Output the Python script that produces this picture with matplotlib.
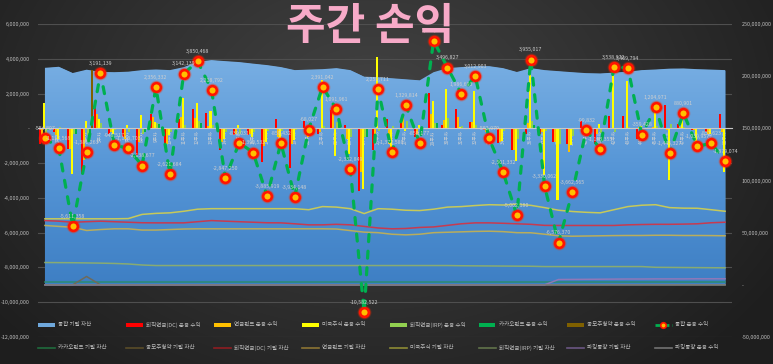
import numpy as np
import matplotlib
matplotlib.use("Agg")
import matplotlib.pyplot as plt
from matplotlib.ticker import FuncFormatter
from matplotlib.lines import Line2D
from matplotlib.patches import Rectangle
from matplotlib.colors import LinearSegmentedColormap

plt.rcParams['font.family'] = ['Noto Sans CJK KR', 'DejaVu Sans']

# ---------------- data ----------------
weeks = [f"{i}주차" for i in range(1, 51)]

total_profit = [-554807, -1153568, -5611358, -1381263, 3191139, -948517, -1158703, -2138677, 2356332, -2621684,
                3142139, 3850468, 2218792, -2847250, -830031, -1390533, -3885919, -850432, -3934148, -68027,
                2391042, 1091961, -2332849, -10582522, 2251711, -1377580, 1329814, -858177, 5042085, 3496827,
                1986693, 3012903, -582979, -2501332, -5002180, 3955017, -3330062, -6576370, -3662565, -99832,
                -1193355, 3538972, 3469794, -359428, 1204971, -1445327, 880901, -1039957, -857623, -1879074]

dc_profit = [-900000, -200000, -1200000, -2600000, 1500000, -300000, -500000, -1550000, 800000, -1100000,
             560000, 1120000, 880000, -1250000, -400000, -400000, -1950000, 520000, -2290000, 400000,
             -300000, 1040000, 200000, -3600000, -1270000, 560000, 350000, -500000, 2040000, 170000,
             1130000, 350000, -100000, -850000, -1270000, -300000, -300000, -790000, -880000, 420000,
             -880000, 710000, 690000, -600000, -50000, 1360000, 230000, -100000, -200000, 850000]
fund_profit = [-700000, -400000, -1200000, -1800000, 850000, -200000, -600000, -800000, 650000, -900000,
               650000, 600000, 150000, -800000, -300000, -300000, -1000000, -500000, -880000, 100000,
               -200000, 1000000, -600000, -2500000, -400000, -880000, 710000, -300000, 850000, 460000,
               650000, 350000, -200000, -800000, -1270000, 300000, -200000, -790000, -1360000, -200000,
               -300000, 0, 0, 100000, 100000, -100000, 100000, -100000, -300000, -200000]
us_profit = [1450000, -600000, -2600000, 450000, 550000, -350000, 170000, 750000, 350000, -400000,
             1750000, 1440000, 1000000, -600000, 200000, -500000, -800000, -690000, -690000, -500000,
             2770000, -1600000, -1460000, -3500000, 4100000, -1170000, -150000, 170000, 1560000, 2250000,
             50000, 2130000, -300000, -700000, -1850000, 3340000, -2700000, -4100000, -980000, -200000,
             230000, 3060000, 2710000, 150000, 1040000, -2960000, 460000, -790000, -300000, -2520000]
irp_profit = [-300000, 50000, -300000, -400000, 300000, -100000, -200000, -350000, 300000, -200000,
              180000, 400000, 200000, -200000, -330000, -190000, -140000, -180000, -70000, -70000,
              120000, 350000, -470000, -500000, -180000, 110000, 420000, -230000, 300000, 600000,
              160000, 180000, 20000, -150000, -600000, 400000, -130000, -900000, -440000, -120000,
              -240000, -230000, 70000, -10000, 110000, 250000, 90000, -50000, -60000, -10000]
kakao_profit = [-100000, 0, -300000, -400000, 0, 0, 0, -200000, 250000, 0,
                0, 300000, 0, 0, 0, 0, 0, 0, 0, 0,
                0, 300000, 0, -480000, 0, 0, 0, 0, 290000, 0,
                0, 0, 0, 0, 0, 220000, 0, 0, 0, 0,
                0, 0, 0, 0, 0, 0, 0, 0, 0, 0]
ipo_profit = [0, 0, 0, 3350000, 0, 0, 0, 0, 0, 0,
              0, 0, 0, 0, 0, 0, 0, 0, 0, 0,
              0, 0, 0, 0, 0, 0, 0, 0, 0, 0,
              0, 0, 0, 0, 0, 0, 0, 0, 0, 0,
              0, 0, 0, 0, 0, 0, 0, 0, 0, 0]

total_asset = [208.0, 209.0, 203.0, 206.2, 204.1, 203.8, 204.3, 205.8, 206.4, 205.8,
               208.6, 213.8, 215.4, 214.4, 213.5, 212.0, 210.6, 208.7, 205.8, 206.3,
               206.7, 207.7, 205.8, 199.5, 199.0, 198.0, 197.0, 196.0, 203.8, 207.7,
               208.7, 209.6, 209.6, 207.7, 204.0, 207.7, 205.8, 204.8, 203.8, 202.9,
               202.6, 203.4, 204.3, 205.8, 206.4, 207.2, 207.4, 206.7, 206.3, 205.8]
us_asset = [63.3, 63.3, 63.3, 63.3, 63.3, 63.3, 63.5, 67.5, 68.5, 69.0,
            70.5, 72.5, 73.0, 73.0, 73.0, 73.0, 73.0, 73.0, 73.0, 72.0,
            75.0, 74.5, 73.0, 68.3, 73.0, 72.5, 71.5, 71.2, 72.5, 74.5,
            75.0, 76.0, 76.8, 76.5, 77.3, 76.2, 74.0, 71.5, 70.3, 69.5,
            69.0, 72.0, 75.0, 76.3, 76.8, 74.0, 73.5, 73.4, 72.0, 70.5]
dc_asset = [61.6, 61.0, 60.0, 60.5, 61.0, 60.5, 60.0, 59.5, 59.4, 59.4,
            59.4, 60.5, 61.6, 61.0, 60.5, 60.0, 59.5, 59.4, 58.5, 57.5,
            57.5, 58.0, 57.5, 56.0, 54.5, 53.7, 54.0, 55.0, 55.5, 57.0,
            58.5, 59.4, 59.4, 59.0, 58.5, 58.0, 57.0, 56.9, 56.9, 56.9,
            56.9, 56.9, 57.5, 57.8, 58.0, 58.0, 58.2, 58.5, 59.5, 60.0]
fund_asset = [56.9, 56.0, 55.2, 52.1, 53.0, 53.7, 53.7, 52.5, 52.5, 53.0,
              53.5, 53.7, 53.7, 53.7, 53.7, 53.7, 53.7, 53.7, 53.7, 53.7,
              53.7, 53.5, 52.0, 50.5, 50.0, 48.5, 47.9, 48.5, 50.0, 50.4,
              50.8, 51.2, 51.4, 51.0, 50.0, 49.9, 48.5, 47.0, 46.6, 46.8,
              47.0, 47.2, 47.3, 47.3, 47.5, 47.5, 47.3, 47.3, 47.2, 47.0]
irp_asset = [21.4, 21.3, 21.2, 21.0, 20.8, 20.5, 20.0, 19.0, 18.5, 18.5,
             18.5, 18.5, 18.5, 18.5, 18.5, 18.5, 18.5, 18.5, 18.5, 18.5,
             18.5, 18.5, 18.5, 18.5, 18.5, 18.5, 18.5, 18.5, 18.5, 18.5,
             18.3, 18.2, 18.1, 18.0, 17.9, 17.8, 17.5, 17.5, 17.5, 17.5,
             17.5, 17.5, 17.5, 17.5, 16.8, 16.7, 16.6, 16.5, 16.4, 16.3]
kakao_asset = [2.8] * 50
ipo_asset = [0, 0, 0, 8.0, 0, 0, 0, 0, 0, 0,
             0, 0, 0, 0, 0, 0, 0, 0, 0, 0,
             0, 0, 0, 0, 0, 0, 0, 0, 0, 0,
             0, 0, 0, 0, 0, 0, 0, 0, 0, 0,
             0, 0, 0, 0, 0, 0, 0, 0, 0, 0]
parking_asset = [0] * 37 + [5.1, 5.2, 5.3, 5.4, 5.5, 5.6, 5.6, 5.7, 5.7, 5.7, 5.8, 5.8, 5.8]
parking_profit = [0] * 37 + [0.01] * 13

# ---------------- figure ----------------
W, H = 773, 364
fig = plt.figure(figsize=(W / 100, H / 100), dpi=100)

# background radial gradient
bg = fig.add_axes([0, 0, 1, 1], zorder=-10)
yy, xx = np.mgrid[0:H, 0:W]
r = np.sqrt(((xx - 0.48 * W) / (0.62 * W)) ** 2 + ((yy - 0.30 * H) / (0.95 * H)) ** 2)
r = np.clip(r, 0, 1)
g = 68 - 38 * r
bgimg = np.dstack([g, g, g]) / 255.0
bg.imshow(bgimg, extent=[0, 1, 0, 1], aspect='auto', origin='upper')
bg.axis('off')

rect = [38 / W, 27 / H, 694 / W, 313 / H]
x = np.arange(len(weeks))

fmt = FuncFormatter(lambda v, p: '-' if abs(v) < 1e-6 else f"{v:,.0f}")

# left axis: gridlines + tick labels
ax_l = fig.add_axes(rect)
ax_l.patch.set_visible(False)
ax_l.set_xlim(-0.5, len(weeks) - 0.5)
ax_l.set_ylim(-12e6, 6e6)
ax_l.set_yticks(np.arange(-12e6, 6e6 + 1, 2e6))
ax_l.yaxis.set_major_formatter(fmt)
ax_l.yaxis.grid(True, color='#4f4f4f', lw=0.8)
ax_l.set_axisbelow(True)
ax_l.tick_params(axis='y', length=0, pad=6, labelsize=3.9, labelcolor='#bdbdbd')
ax_l.tick_params(axis='x', bottom=False, labelbottom=False)
for s in ax_l.spines.values():
    s.set_visible(False)

# right axis: area + asset lines
ax_r = ax_l.twinx()
ax_r.patch.set_visible(False)
ax_r.set_ylim(-50e6, 250e6)
ax_r.set_yticks(np.arange(-50e6, 250e6 + 1, 50e6))
ax_r.yaxis.set_major_formatter(fmt)
ax_r.tick_params(axis='y', length=0, pad=7, labelsize=3.9, labelcolor='#bdbdbd')
for s in ax_r.spines.values():
    s.set_visible(False)

ta = np.array(total_asset) * 1e6
poly = ax_r.fill_between(x, 0, ta, color='#5b9bd5', lw=0, zorder=1)
cmap = LinearSegmentedColormap.from_list('blu', ['#3e7fc4', '#5595d6', '#79afe3'])
grad = np.linspace(0, 1, 256).reshape(-1, 1)
im = ax_r.imshow(grad, cmap=cmap, origin='lower', aspect='auto',
                 extent=[-0.5, len(weeks) - 0.5, 0, 218e6], zorder=1.1)
im.set_clip_path(poly.get_paths()[0], transform=ax_r.transData)
ax_r.set_xlim(-0.5, len(weeks) - 0.5)
ax_r.set_ylim(-50e6, 250e6)

asset_lines = [
    (kakao_asset, '#2b8c73'),
    (ipo_asset, '#6f6a5a'),
    (dc_asset, '#c83a4f'),
    (fund_asset, '#b9ad5c'),
    (us_asset, '#c6c95a'),
    (irp_asset, '#88ab72'),
    (parking_asset, '#8f78b8'),
    (parking_profit, '#7a7a7a'),
]
for vals, c in asset_lines:
    ax_r.plot(x, np.array(vals) * 1e6, color=c, lw=1.1, zorder=3)

# top axis: bars + total line
ax_t = fig.add_axes(rect, sharex=ax_l, sharey=ax_l)
ax_t.patch.set_visible(False)
ax_t.set_zorder(ax_r.get_zorder() + 1)
for k, s in ax_t.spines.items():
    s.set_visible(k == 'bottom')
ax_t.spines['bottom'].set_position(('data', 0))
ax_t.spines['bottom'].set_color('#c8c8c8')
ax_t.spines['bottom'].set_linewidth(0.8)
ax_t.tick_params(axis='y', left=False, labelleft=False)
ax_t.set_xticks(x)
ax_t.set_xticklabels(weeks, rotation=90)
ax_t.tick_params(axis='x', length=0, pad=1.5, labelsize=3.4, labelcolor='#d0d0d0')

bar_series = [
    (dc_profit, '#ff0000'),
    (fund_profit, '#ffc000'),
    (us_profit, '#ffff00'),
    (irp_profit, '#92d050'),
    (kakao_profit, '#00b050'),
    (ipo_profit, '#7f6000'),
]
bw = 0.145
for i, (vals, c) in enumerate(bar_series):
    ax_t.bar(x + (i - 2.5) * bw, vals, width=bw, color=c, lw=0, zorder=2)

ax_t.plot(x, total_profit, color='#ff2a00', lw=0, marker='o', ms=9, alpha=0.25, zorder=4)
ax_t.plot(x, total_profit, color='#00b050', lw=2.3, ls=(0, (2.2, 3.0)), dash_capstyle='round',
          marker='o', ms=6.3, mfc='#ffc000', mec='#ff1500', mew=1.9, zorder=5)
for xi, v in zip(x, total_profit):
    ax_t.annotate(f"{v:,}", (xi, v), xytext=(0, 7), textcoords='offset points',
                  ha='center', va='center', fontsize=3.8, color='#cfcfcf', zorder=6)

# title
fig.text(370 / W, 1 - 26 / H, '주간 손익', ha='center', va='center', fontsize=31,
         fontweight='bold', color='#f7aac8', zorder=20)

# legend (two rows of eight)
row1 = [
    ('통합 기말 자산', 'patch', '#6fa8dc'),
    ('퇴직연금(DC) 운용 수익', 'patch', '#ff0000'),
    ('연금펀드 운용 수익', 'patch', '#ffc000'),
    ('미국주식 운용 수익', 'patch', '#ffff00'),
    ('퇴직연금(IRP) 운용 수익', 'patch', '#92d050'),
    ('카카오펀드 운용 수익', 'patch', '#00b050'),
    ('공모주청약 운용 수익', 'patch', '#7f6000'),
    ('통합 운용 수익', 'total', '#00b050'),
]
row2 = [
    ('카카오펀드 기말 자산', 'line', '#1f6b3d'),
    ('공모주청약 기말 자산', 'line', '#5a4c28'),
    ('퇴직연금(DC) 기말 자산', 'line', '#8f1d22'),
    ('연금펀드 기말 자산', 'line', '#8c7433'),
    ('미국주식 기말 자산', 'line', '#8d8b35'),
    ('퇴직연금(IRP) 기말 자산', 'line', '#61734a'),
    ('파킹통장 기말 자산', 'line', '#6a5682'),
    ('파킹통장 운용 수익', 'line', '#727272'),
]
for row, py in ((row1, 324.5), (row2, 347.5)):
    for j, (label, kind, c) in enumerate(row):
        px = 38 + 88.1 * j
        fy = 1 - py / H
        if kind == 'patch':
            fig.add_artist(Rectangle((px / W, fy - 2 / H), 17 / W, 4 / H, transform=fig.transFigure,
                                     facecolor=c, edgecolor='none', zorder=20))
        elif kind == 'line':
            fig.add_artist(Line2D([px / W, (px + 17) / W], [fy, fy], transform=fig.transFigure,
                                  color=c, lw=1.2, zorder=20))
        else:
            fig.add_artist(Line2D([px / W, (px + 17) / W], [fy, fy], transform=fig.transFigure,
                                  color=c, lw=2.0, ls=(0, (2.0, 1.0)), zorder=20))
            fig.add_artist(Line2D([(px + 8.5) / W], [fy], transform=fig.transFigure, marker='o',
                                  ms=4, mfc='#ffc000', mec='#ff1500', mew=1.2, lw=0, zorder=21))
        fig.text((px + 20) / W, fy, label, ha='left', va='center', fontsize=4.0,
                 color='#bcbcbc', zorder=20)

fig.savefig('out.png', dpi=100, facecolor='#2e2e2e')
